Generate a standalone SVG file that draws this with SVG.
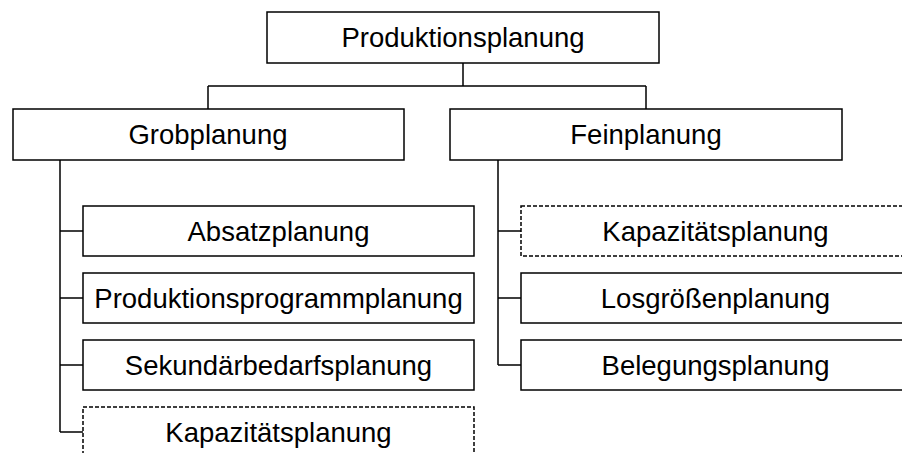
<svg xmlns="http://www.w3.org/2000/svg" width="902" height="453" viewBox="0 0 902 453">
  <style>
    .box { fill: #ffffff; stroke: #000000; stroke-width: 1.5; }
    .dashed { fill: #ffffff; stroke: #000000; stroke-width: 1.5; stroke-dasharray: 4 2; }
    .lbl { font-family: "Liberation Sans", Arial, sans-serif; font-size: 27.5px; fill: #000000; text-anchor: middle; }
    .wire { fill: none; stroke: #000000; stroke-width: 1.5; }
  </style>
  <rect width="902" height="453" fill="#ffffff"/>

  <!-- connectors -->
  <g id="connectors">
    <path class="wire" d="M463 63 V86 M208 86 H646 M208 86 V109 M646 86 V109"/>
    <path class="wire" d="M60 160 V432 M60 231 H83 M60 298 H83 M60 365 H83 M60 432 H83"/>
    <path class="wire" d="M498 160 V365 M498 231 H521 M498 298 H521 M498 365 H521"/>
  </g>

  <!-- root -->
  <g id="produktionsplanung">
    <rect class="box" x="267" y="12" width="392" height="51"/>
    <text class="lbl" x="463" y="47">Produktionsplanung</text>
  </g>

  <!-- level 1 -->
  <g id="grobplanung">
    <rect class="box" x="13" y="109" width="391" height="51"/>
    <text class="lbl" x="208" y="144">Grobplanung</text>
  </g>
  <g id="feinplanung">
    <rect class="box" x="450" y="109" width="392" height="51"/>
    <text class="lbl" x="646" y="144">Feinplanung</text>
  </g>

  <!-- Grobplanung children -->
  <g id="absatzplanung">
    <rect class="box" x="83" y="206" width="391" height="50"/>
    <text class="lbl" x="278.5" y="240.5">Absatzplanung</text>
  </g>
  <g id="produktionsprogrammplanung">
    <rect class="box" x="83" y="273" width="391" height="50"/>
    <text class="lbl" x="278.5" y="307.5">Produktionsprogrammplanung</text>
  </g>
  <g id="sekundaerbedarfsplanung">
    <rect class="box" x="83" y="340" width="391" height="50"/>
    <text class="lbl" x="278.5" y="374.5">Sekundärbedarfsplanung</text>
  </g>
  <g id="kapazitaetsplanung-grob">
    <rect class="dashed" x="83" y="407" width="391" height="50"/>
    <text class="lbl" x="278.5" y="441.5">Kapazitätsplanung</text>
  </g>

  <!-- Feinplanung children -->
  <g id="kapazitaetsplanung-fein">
    <rect class="dashed" x="521" y="206" width="389" height="50"/>
    <text class="lbl" x="715.5" y="240.5">Kapazitätsplanung</text>
  </g>
  <g id="losgroessenplanung">
    <rect class="box" x="521" y="273" width="389" height="50"/>
    <text class="lbl" x="715.5" y="307.5">Losgrößenplanung</text>
  </g>
  <g id="belegungsplanung">
    <rect class="box" x="521" y="340" width="389" height="50"/>
    <text class="lbl" x="715.5" y="374.5">Belegungsplanung</text>
  </g>
</svg>
